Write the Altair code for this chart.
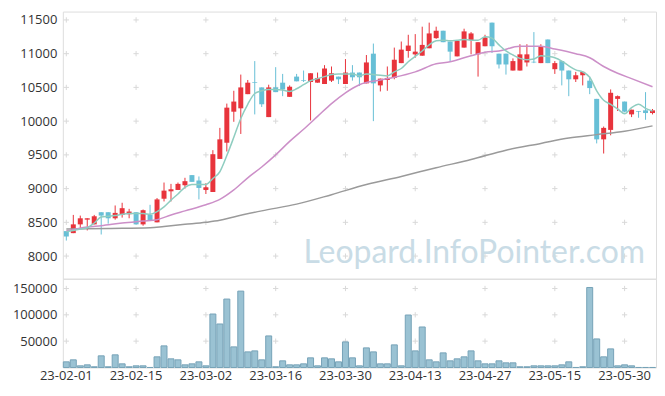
import altair as alt
import pandas as pd

# ---- data ----
holidays = ["2023-03-01", "2023-05-01", "2023-05-05", "2023-05-29"]
days = [d for d in pd.bdate_range("2023-02-01", "2023-06-05") if d.strftime("%Y-%m-%d") not in holidays]
dates = [d.strftime("%y-%m-%d") for d in days]

open_ = [8370,8340,8470,8540,8470,8650,8650,8560,8610,8620, 8650,8470,8610,8500,8850,8960,8980,9050,9200,9120,
         8980,8950,9440,9680,10140,10190,10400,10580,10500,10060, 10500,10570,10360,10660,10610,10580,10570,10550,10600,10660,
         10550,10720,10720,10560,11000,10530,10610,10640,10860,11040, 10990,10970,11080,11230,11340,11180,10960,11090,11200,10990,
         11110,11460,11000,11000,10750,10750,10870,10880,10860,11210, 10770,10890,10750,10620,10680,10600,10330,9730,9870,10330,
         10290,10100,10150,10160,10120]
close = [8290,8470,8560,8560,8590,8600,8560,8640,8710,8660, 8470,8680,8530,8840,8970,8990,9070,9110,9100,9010,
         9020,9510,9730,10200,10290,10500,10570,10570,10250,10500, 10430,10470,10510,10590,10600,10710,10640,10780,10710,10620,
         10720,10650,10650,10870,10560,10630,10640,10910,11060,11120, 11030,11130,11300,11340,11170,11030,11190,11330,11300,11170,
         11240,11110,10840,10840,10890,10990,10990,10870,11100,10860, 10860,10750,10620,10680,10730,10490,9730,9900,10420,10370,
         10140,10170,10140,10120,10160]
high = [8370,8610,8600,8560,8610,8650,8650,8750,8790,8700, 8650,8690,8760,8860,9090,9070,9090,9160,9200,9180,
        9080,9570,9900,10260,10450,10690,10610,10890,10500,10540, 10800,10700,10530,10700,10750,10710,10720,10830,10810,10660,
        10920,10830,10720,10980,11150,10630,10810,11090,11180,11280, 11290,11400,11460,11400,11340,11180,11190,11370,11320,11170,
        11280,11460,11000,11000,10930,11140,11140,11320,11140,11210, 10890,10890,10750,10730,10740,10660,10330,9920,10470,10380,
        10290,10170,10150,10430,10180]
low = [8230,8340,8410,8380,8470,8320,8480,8540,8570,8560, 8470,8450,8530,8500,8810,8810,8980,9000,9100,8840,
       8920,8950,9440,9550,9990,9810,10400,10100,10210,10060, 10430,10370,10360,10590,10580,10010,10570,10550,10580,10550,
       10550,10600,10520,10560,10000,10440,10450,10620,10860,10940, 10940,10970,11080,11220,11170,10880,10960,11090,10990,10660,
       11110,11010,10780,10690,10750,10750,10810,10860,10860,10860, 10700,10530,10370,10580,10530,10400,9670,9520,9790,10150,
       10130,10060,10050,10020,10100]
volume = [10700,14500,3150,5000,1300,22100,1300,24000,6900,1300, 3150,3150,0,20200,41000,16400,14500,5000,6900,10700,
          3150,101500,82600,129900,39100,145000,29600,31500,14500,59900, 1300,12600,5000,5000,6900,18300,3150,18300,16400,10700,
          48500,18300,3150,37200,29600,6900,6900,42900,3150,99600, 31500,76900,14500,10700,27700,12600,16400,20200,31500,12600,
          6900,6900,12600,8800,8800,1300,1300,3150,3150,3150, 3150,5000,10700,0,1300,151900,54200,20200,35300,3150,
          5000,3150,0,0,0]
ma5 = [8360,8380,8400,8420,8490,8580,8590,8600,8620,8630, 8630,8630,8620,8660,8730,8830,8920,9020,9060,9060,
       9060,9150,9250,9490,9760,10040,10250,10410,10450,10470, 10470,10460,10440,10480,10540,10600,10630,10660,10690,10700,
       10700,10700,10670,10700,10690,10680,10670,10730,10780,10880, 10960,11040,11130,11190,11200,11190,11200,11210,11200,11200,
       11250,11230,11130,11040,10980,10930,10910,10920,10970,10960, 10940,10890,10820,10760,10730,10650,10450,10310,10250,10180,
       10110,10200,10250,10190,10150]
ma20_idx = [0,3,5,8,11,13,15,17,20,22,24,26,28,30,32,34,36,38,40,42,45,47,50,53,55,58,60,62,65,68,70,73,75,77,79,81,84]
ma20 = [8370,8430,8450,8490,8520,8540,8610,8670,8760,8840,8980,9160,9320,9500,9700,9880,10070,10260,10420,10540,
        10610,10650,10730,10850,10880,10970,11020,11040,11110,11110,11070,11000,10940,10810,10710,10630,10510]
ma60_idx = [0,6,12,14,17,20,22,24,28,33,38,43,48,53,58,63,68,72,76,80,84]
ma60 = [8400,8410,8420,8440,8470,8500,8530,8580,8670,8770,8910,9060,9180,9310,9430,9570,9670,9750,9800,9850,9930]

price_ticks = [8000, 8500, 9000, 9500, 10000, 10500, 11000, 11500]
volume_ticks = [50000, 100000, 150000]
label_dates = ["23-02-01", "23-02-15", "23-03-02", "23-03-16", "23-03-30", "23-04-13", "23-04-27", "23-05-15", "23-05-30"]
watermark = "Leopard.InfoPointer.com"

# ---- tables ----
df = pd.DataFrame(dict(date=dates, open=open_, close=close, high=high, low=low, volume=volume, ma5=ma5))
df20 = pd.DataFrame(dict(date=[dates[i] for i in ma20_idx], v=ma20))
df60 = pd.DataFrame(dict(date=[dates[i] for i in ma60_idx], v=ma60))
grid_p = pd.DataFrame([(d, v) for d in label_dates for v in price_ticks], columns=["date", "v"])
grid_v = pd.DataFrame([(d, v) for d in label_dates for v in volume_ticks], columns=["date", "v"])

W = 595
FONT = "Open Sans"
RED, BLUE = "#e8343c", "#67bfd6"

xs = alt.Scale(type="band", domain=dates, paddingInner=0, paddingOuter=0)
x_hidden = alt.X("date:O", scale=xs, axis=None)
ps = alt.Scale(domain=[7664, 11624], zero=False, nice=False)
price_axis = alt.Axis(values=price_ticks, format="d", grid=False, ticks=False, domain=False, labelPadding=6,
                      labelFontSize=13, labelColor="#333", labelFont=FONT, title=None)
cond = alt.condition("datum.close >= datum.open", alt.value(RED), alt.value(BLUE))
cross = "M-1,0L1,0M0,-1L0,1"

gp = alt.Chart(grid_p).mark_point(shape=cross, size=28, filled=False, color="#d9d9d9", strokeWidth=1, opacity=1).encode(
    x=x_hidden, y=alt.Y("v:Q", scale=ps, axis=price_axis))
wm = alt.Chart(pd.DataFrame({"t": [watermark]})).mark_text(
    align="right", baseline="alphabetic", fontSize=32, font="Lato", color="#c9dce6").encode(
    text="t:N", x=alt.value(584), y=alt.value(252))
wick = alt.Chart(df).mark_rule(strokeWidth=1).encode(
    x=x_hidden, y=alt.Y("low:Q", scale=ps, axis=price_axis), y2="high:Q", color=cond)
body = alt.Chart(df).mark_bar(size=5).encode(
    x=x_hidden, y=alt.Y("open:Q", scale=ps, axis=price_axis), y2="close:Q", color=cond)
l60 = alt.Chart(df60).mark_line(color="#9a9a9a", strokeWidth=1.5, interpolate="monotone").encode(
    x=x_hidden, y=alt.Y("v:Q", scale=ps, axis=price_axis))
l20 = alt.Chart(df20).mark_line(color="#cc8fc8", strokeWidth=1.5, interpolate="monotone").encode(
    x=x_hidden, y=alt.Y("v:Q", scale=ps, axis=price_axis))
l5 = alt.Chart(df).mark_line(color="#8fcdc0", strokeWidth=1.5, interpolate="monotone").encode(
    x=x_hidden, y=alt.Y("ma5:Q", scale=ps, axis=price_axis))

price = alt.layer(gp, wm, wick, body, l60, l20, l5).properties(width=W, height=268)

vs = alt.Scale(domain=[0, 168500], nice=False)
vol_axis = alt.Axis(values=volume_ticks, format="d", grid=False, ticks=False, domain=False, labelPadding=6,
                    labelFontSize=13, labelColor="#333", labelFont=FONT, title=None)
x_axis = alt.Axis(values=label_dates, labelAngle=0, ticks=False, domain=False, grid=False, labelPadding=2,
                  labelFontSize=13, labelColor="#333", labelFont=FONT, title=None)
gv = alt.Chart(grid_v).mark_point(shape=cross, size=28, filled=False, color="#d9d9d9", strokeWidth=1, opacity=1).encode(
    x=alt.X("date:O", scale=xs, axis=x_axis), y=alt.Y("v:Q", scale=vs, axis=vol_axis))
vb = alt.Chart(df).mark_bar(size=6, fill="#9ac2d3", stroke="#76a3b8", strokeWidth=1).encode(
    x=alt.X("date:O", scale=xs, axis=x_axis), y=alt.Y("volume:Q", scale=vs, axis=vol_axis))
vol = alt.layer(gv, vb).properties(width=W, height=89)

chart = alt.vconcat(price, vol, spacing=0, bounds="flush").properties(
    padding={"left": 3, "top": 2, "right": 0, "bottom": 0}
).configure_view(stroke="#e6e6e6").configure(background="white")

chart.save("out.html", embed_options={"renderer": "svg", "actions": False})
